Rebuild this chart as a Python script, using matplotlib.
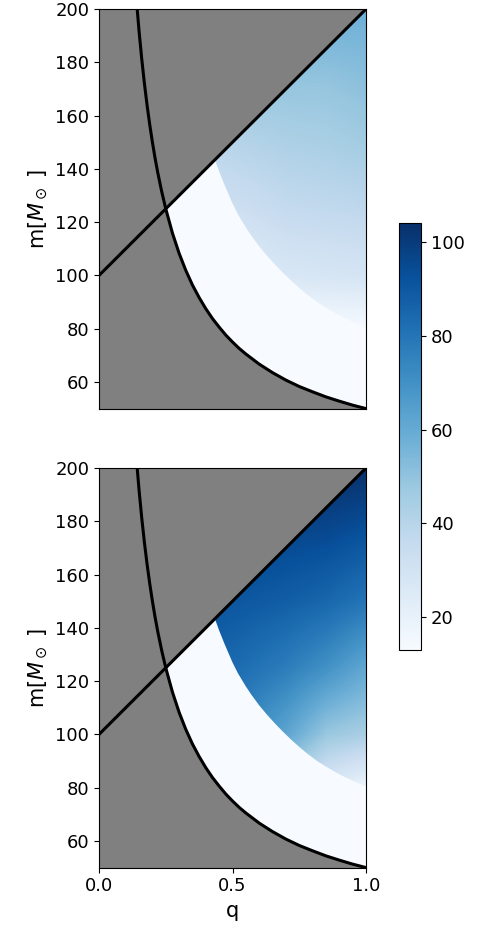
import numpy as np
import matplotlib
matplotlib.use("Agg")
import matplotlib.pyplot as plt
from matplotlib.colors import Normalize
from matplotlib.patches import Polygon

# --- data ---
# upper bound line (q, m)
line_q = [0.0, 1.0]
line_m = [100.0, 200.0]

# lower bound curve (q, m)
curve_q = [0.14, 0.15, 0.16, 0.17, 0.18, 0.19, 0.20, 0.21, 0.22, 0.235, 0.25, 0.275,
           0.30, 0.325, 0.35, 0.375, 0.40, 0.425, 0.45, 0.475, 0.50, 0.525, 0.55,
           0.60, 0.65, 0.70, 0.75, 0.80, 0.85, 0.90, 0.95, 1.00]
curve_m = [203.6, 191.7, 181.3, 172.1, 163.9, 156.6, 150.0, 144.0, 138.6, 131.4, 125.0,
           115.9, 108.3, 101.9, 96.4, 91.7, 87.5, 83.8, 80.6, 77.6, 75.0, 72.6, 70.5,
           66.7, 63.5, 60.7, 58.3, 56.3, 54.4, 52.8, 51.3, 50.0]

# edge of the coloured zone (q, m)
edge_q = [0.434, 0.45, 0.47, 0.50, 0.52, 0.55, 0.57, 0.60, 0.63, 0.66, 0.69,
          0.72, 0.75, 0.78, 0.82, 0.86, 0.90, 0.95, 1.00]
edge_m = [143.4, 139.0, 134.0, 127.0, 123.0, 118.0, 115.0, 110.9, 107.3, 104.0, 100.9,
          98.0, 95.3, 92.8, 89.8, 87.3, 85.0, 82.6, 80.5]

# coarse value grids (rows = m_nodes, cols = q_nodes)
q_nodes = [0.40, 0.55, 0.70, 0.85, 1.00]
m_nodes = [75, 100, 125, 150, 175, 200]
z_top = [
    [10, 10, 10, 10, 10],
    [22, 24, 27, 28, 29],
    [31, 33, 36, 37, 38],
    [39, 41, 43, 44, 46],
    [50, 50, 50, 50, 52],
    [60, 60, 60, 59, 58],
]
z_bottom = [
    [60, 50, 35, 20, 10],
    [78, 72, 62, 48, 44],
    [86, 82, 77, 70, 61],
    [92, 90, 88, 85, 80],
    [97, 97, 96, 95, 92],
    [104, 104, 104, 105, 104],
]

vmin, vmax = 13, 104
cmap = plt.get_cmap("Blues")
norm = Normalize(vmin=vmin, vmax=vmax)

fig = plt.figure(figsize=(4.79, 9.31), dpi=100)
ax_top = fig.add_axes([0.2067, 0.5611, 0.5574, 0.4292])
ax_bot = fig.add_axes([0.2067, 0.0681, 0.5574, 0.4292])
cax = fig.add_axes([0.833, 0.3018, 0.0459, 0.4586])

dq = q_nodes[1] - q_nodes[0]
dm = m_nodes[1] - m_nodes[0]
extent = [q_nodes[0] - dq / 2, q_nodes[-1] + dq / 2,
          m_nodes[0] - dm / 2, m_nodes[-1] + dm / 2]
i0 = curve_q.index(0.25)

for ax, z in [(ax_top, z_top), (ax_bot, z_bottom)]:
    ax.set_facecolor("#808080")

    # allowed region (between curve and line), base colour = lowest of cmap
    region = list(zip(curve_q[i0:], curve_m[i0:])) + [(1.0, 200.0)]
    ax.add_patch(Polygon(region, closed=True, facecolor=cmap(0.0),
                         edgecolor="none", zorder=1))

    # coloured zone
    zone = Polygon(list(zip(edge_q, edge_m)) + [(1.0, 200.0)], closed=True,
                   facecolor="none", edgecolor="none", transform=ax.transData)
    ax.add_patch(zone)
    im = ax.imshow(np.array(z, float), origin="lower", extent=extent,
                   interpolation="bilinear", cmap=cmap, norm=norm,
                   aspect="auto", zorder=2)
    im.set_clip_path(zone)

    ax.plot(line_q, line_m, color="black", lw=2.2, zorder=3)
    ax.plot(curve_q, curve_m, color="black", lw=2.2, zorder=3)

    ax.set_xlim(0, 1)
    ax.set_ylim(50, 200)
    ax.set_yticks([60, 80, 100, 120, 140, 160, 180, 200])
    ax.tick_params(labelsize=13)
    ax.set_ylabel(r"m[$M_\odot$ ]", fontsize=15)

ax_top.set_xticks([])
ax_bot.set_xticks([0.0, 0.5, 1.0])
ax_bot.set_xticklabels(["0.0", "0.5", "1.0"])
ax_bot.set_xlabel("q", fontsize=15)

sm = plt.cm.ScalarMappable(norm=norm, cmap=cmap)
cb = fig.colorbar(sm, cax=cax)
cb.set_ticks([20, 40, 60, 80, 100])
cb.ax.tick_params(labelsize=13)

fig.savefig("out.png", dpi=100)
